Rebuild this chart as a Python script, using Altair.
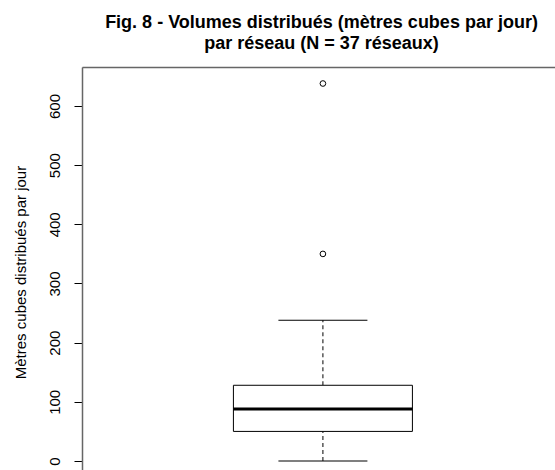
import altair as alt
import pandas as pd

# Summary statistics (mètres cubes par jour)
group_pos = [1]
lower_whisker = [0]
q1 = [50]
median = [88]
q3 = [128]
upper_whisker = [238]
outliers = [350, 638]

y_ticks = [0, 100, 200, 300, 400, 500, 600]

box_df = pd.DataFrame({
    "pos": group_pos,
    "lw": lower_whisker,
    "q1": q1,
    "med": median,
    "q3": q3,
    "uw": upper_whisker,
})
out_df = pd.DataFrame({"pos": group_pos * len(outliers), "val": outliers})

FONT = "Liberation Sans"

xscale = alt.Scale(domain=[0.5, 1.4813], nice=False, zero=False)
yscale = alt.Scale(domain=[-15.2, 665.9], nice=False, zero=False)

x_enc = alt.X("pos:Q", scale=xscale,
              axis=alt.Axis(orient="top", labels=False, ticks=False, title=None,
                            grid=False, domain=True, domainColor="#666666", domainWidth=1.5))
y_axis = alt.Axis(values=y_ticks, format="d", grid=False, domain=True,
                  domainColor="#666666", domainWidth=1.5,
                  tickColor="#000000", tickSize=8, tickWidth=1,
                  labelAngle=270, labelAlign="center", labelBaseline="alphabetic",
                  labelPadding=15, labelFont=FONT, labelFontSize=15, labelColor="#000000",
                  title="Mètres cubes distribués par jour", titleFont=FONT,
                  titleFontSize=15, titleFontWeight="normal", titleColor="#000000",
                  titleAngle=270, titleAlign="center", titleBaseline="alphabetic",
                  titleX=-57, titleY=205)

base = alt.Chart(box_df)

whisk_lo = base.mark_rule(color="black", strokeDash=[4, 3], strokeWidth=1).encode(
    x=x_enc, y=alt.Y("lw:Q", scale=yscale, axis=y_axis), y2="q1:Q")
whisk_hi = base.mark_rule(color="black", strokeDash=[4, 3], strokeWidth=1).encode(
    x="pos:Q", y="q3:Q", y2="uw:Q")
cap_lo = base.mark_tick(orient="horizontal", size=89, thickness=1, color="black", opacity=1).encode(
    x="pos:Q", y="lw:Q")
cap_hi = base.mark_tick(orient="horizontal", size=89, thickness=1, color="black", opacity=1).encode(
    x="pos:Q", y="uw:Q")
box = base.mark_bar(size=179, fill="white", stroke="black", strokeWidth=1).encode(
    x="pos:Q", y="q1:Q", y2="q3:Q")
med = base.mark_tick(orient="horizontal", size=179, thickness=3, color="black", opacity=1).encode(
    x="pos:Q", y="med:Q")
pts = alt.Chart(out_df).mark_point(shape="circle", size=32, filled=False,
                                   color="black", strokeWidth=1, opacity=1).encode(
    x="pos:Q", y="val:Q")

chart = alt.layer(whisk_lo, whisk_hi, cap_lo, cap_hi, box, med, pts).properties(
    width=473, height=403,
    autosize=alt.AutoSizeParams(type="none"),
    padding={"left": 82, "top": 67, "right": 0, "bottom": 0},
    title=alt.TitleParams(
        text=["Fig. 8 - Volumes distribués (mètres cubes par jour)",
              "par réseau (N = 37 réseaux)"],
        font=FONT, fontSize=18, fontWeight="bold", color="black",
        anchor="middle", offset=14, lineHeight=21, dx=3),
).configure_view(stroke=None).configure(background="white")

chart.save("out.html", embed_options={"renderer": "svg", "actions": False})
